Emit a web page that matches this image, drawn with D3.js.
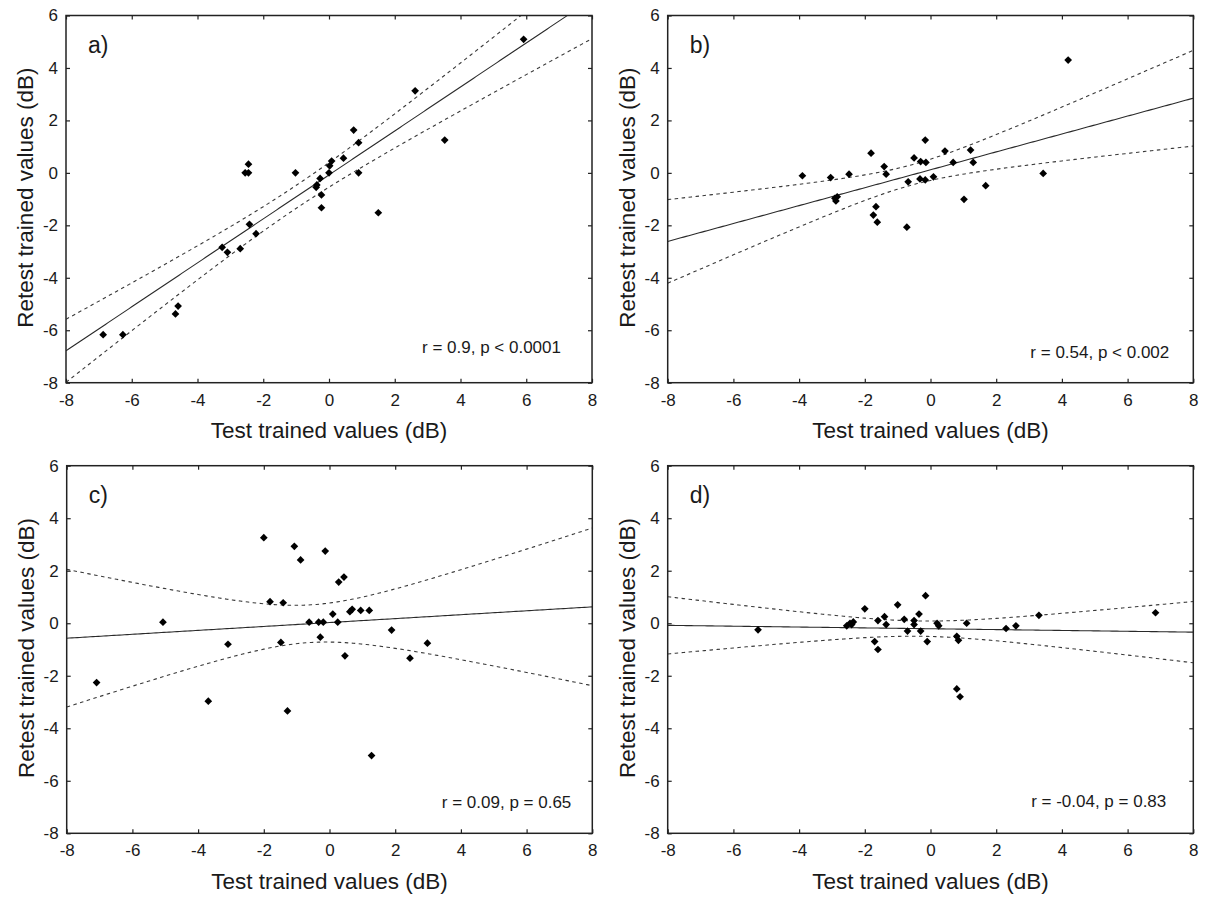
<!DOCTYPE html>
<html>
<head>
<meta charset="utf-8">
<script src="https://cdn.jsdelivr.net/npm/d3@7"></script>
<style>
  body { margin: 0; background: #fff; }
  text { font-family: Arial, "Liberation Sans", sans-serif; fill: #1a1a1a; }
</style>
</head>
<body>
<svg id="chart" width="1207" height="902"></svg>
<script>
// Axis ticks and titles shared by all four panels
const xTicks = [-8, -6, -4, -2, 0, 2, 4, 6, 8];
const yTicks = [-8, -6, -4, -2, 0, 2, 4, 6];
const xTitle = "Test trained values (dB)";
const yTitle = "Retest trained values (dB)";
const panelLabels = ["a)", "b)", "c)", "d)"];
const statLabels = ["r = 0.9, p < 0.0001", "r = 0.54, p < 0.002", "r = 0.09, p = 0.65", "r = -0.04, p = 0.83"];

// Panel a
const testA   = [-6.87, -6.27, -4.67, -4.59, -3.25, -3.09, -2.70, -2.42, -2.22, -2.55, -2.45, -2.45, -1.02, -0.39, -0.37, -0.27, -0.23, -0.23, 0.00, 0.02, 0.08, 0.44, 0.75, 0.90, 0.90, 1.50, 2.62, 3.52, 5.92];
const retestA = [-6.17, -6.17, -5.38, -5.08, -2.84, -3.03, -2.89, -1.96, -2.32, 0.00, 0.00, 0.33, 0.00, -0.55, -0.46, -0.21, -0.84, -1.33, 0.00, 0.27, 0.45, 0.56, 1.63, 1.15, 0.00, -1.52, 3.13, 1.25, 5.09];

// Panel b
const testB   = [-3.90, -3.04, -2.48, -2.91, -2.84, -2.88, -1.81, -1.41, -1.35, -1.66, -1.74, -1.62, -0.72, -0.50, -0.68, -0.30, -0.16, -0.14, -0.32, -0.16, 0.09, 0.44, 0.69, 1.22, 1.30, 1.02, 1.68, 3.43, 4.19];
const retestB = [-0.11, -0.18, -0.05, -0.97, -0.91, -1.07, 0.75, 0.24, -0.05, -1.29, -1.61, -1.88, -2.07, 0.57, -0.34, 0.43, 1.25, 0.40, -0.23, -0.27, -0.15, 0.83, 0.40, 0.87, 0.40, -1.01, -0.49, -0.02, 4.30];

// Panel c
const testC   = [-2.00, -1.07, -0.88, -1.81, -1.41, -5.07, -3.09, -1.48, -0.62, -0.13, 0.28, 0.44, 0.10, 0.62, 0.69, 0.95, 1.21, -0.33, -0.19, 0.25, -0.28, 0.47, 1.89, 2.45, 2.98, -7.09, -3.69, -1.28, 1.28];
const retestC = [3.26, 2.93, 2.41, 0.82, 0.78, 0.04, -0.80, -0.73, 0.04, 2.75, 1.57, 1.76, 0.35, 0.44, 0.53, 0.49, 0.49, 0.04, 0.04, 0.04, -0.53, -1.24, -0.26, -1.33, -0.76, -2.26, -2.97, -3.34, -5.04];

// Panel d
const testD   = [-5.25, -2.55, -2.45, -2.40, -2.35, -2.00, -1.70, -1.60, -1.60, -1.40, -1.35, -1.00, -0.80, -0.70, -0.50, -0.50, -0.35, -0.30, -0.15, -0.10, 0.20, 0.25, 0.80, 0.85, 0.80, 0.90, 1.10, 2.30, 2.60, 3.30, 6.85];
const retestD = [-0.25, -0.10, 0.00, -0.05, 0.05, 0.55, -0.70, -1.00, 0.10, 0.25, -0.05, 0.70, 0.15, -0.30, 0.10, -0.05, 0.35, -0.30, 1.05, -0.70, 0.00, -0.10, -0.50, -0.65, -2.50, -2.80, 0.00, -0.20, -0.10, 0.30, 0.40];

// Panel frames: plot area position and size, plus where the statistic sits
const panels = [
  { x: testA, y: retestA, left: 66,    top: 15.5,  w: 526,   h: 367.2, statInset: 31, statBase: 337.5 },
  { x: testB, y: retestB, left: 667.7, top: 15.5,  w: 525.6, h: 367.2, statInset: 24, statBase: 342.5 },
  { x: testC, y: retestC, left: 66.7,  top: 465.7, w: 525.6, h: 367.6, statInset: 21, statBase: 342 },
  { x: testD, y: retestD, left: 667.7, top: 465.7, w: 525.6, h: 367.6, statInset: 27, statBase: 341.5 }
];

const svg = d3.select("#chart");

// Least-squares fit with 95% confidence band of the mean response
function fit(xs, ys) {
  const n = xs.length;
  const mx = d3.mean(xs), my = d3.mean(ys);
  let sxx = 0, sxy = 0;
  for (let i = 0; i < n; i++) { sxx += (xs[i] - mx) ** 2; sxy += (xs[i] - mx) * (ys[i] - my); }
  const b = sxy / sxx, a = my - b * mx;
  let sse = 0;
  for (let i = 0; i < n; i++) sse += (ys[i] - a - b * xs[i]) ** 2;
  const s = Math.sqrt(sse / (n - 2));
  const t = 2.05;
  return {
    yhat: x => a + b * x,
    half: x => t * s * Math.sqrt(1 / n + (x - mx) ** 2 / sxx)
  };
}

const tickFmt = d => String(d);

panels.forEach((p, i) => {
  const xS = d3.scaleLinear().domain([-8, 8]).range([0, p.w]);
  const yS = d3.scaleLinear().domain([-8, 6]).range([p.h, 0]);
  const g = svg.append("g").attr("transform", `translate(${p.left},${p.top})`);

  const clipId = "clip" + i;
  g.append("clipPath").attr("id", clipId)
    .append("rect").attr("width", p.w).attr("height", p.h);

  // Regression line and confidence band
  const f = fit(p.x, p.y);
  const grid = d3.range(0, 201).map(k => -8 + k * 16 / 200);
  const plot = g.append("g").attr("clip-path", `url(#${clipId})`);
  const line = d3.line().x(d => xS(d[0])).y(d => yS(d[1]));
  plot.append("path")
    .attr("d", line(grid.map(x => [x, f.yhat(x)])))
    .attr("fill", "none").attr("stroke", "#2a2a2a").attr("stroke-width", 1.1);
  [1, -1].forEach(sign => {
    plot.append("path")
      .attr("d", line(grid.map(x => [x, f.yhat(x) + sign * f.half(x)])))
      .attr("fill", "none").attr("stroke", "#3a3a3a").attr("stroke-width", 1.1)
      .attr("stroke-dasharray", "3.5,3.5");
  });

  // Observations
  const diamond = d3.symbol().type(d3.symbolDiamond2).size(38);
  g.append("g").selectAll("path")
    .data(p.x.map((v, k) => [v, p.y[k]]))
    .join("path")
    .attr("d", diamond)
    .attr("transform", d => `translate(${xS(d[0])},${yS(d[1])})`)
    .attr("fill", "#000");

  // Axes: labelled bottom/left, bare ticks on top/right, all pointing inward
  const bottom = g.append("g").attr("transform", `translate(0,${p.h})`)
    .call(d3.axisBottom(xS).tickValues(xTicks).tickSizeInner(-4).tickSizeOuter(0).tickFormat(tickFmt));
  const left = g.append("g")
    .call(d3.axisLeft(yS).tickValues(yTicks).tickSizeInner(-4).tickSizeOuter(0).tickFormat(tickFmt));
  const top = g.append("g")
    .call(d3.axisTop(xS).tickValues(xTicks).tickSizeInner(-4).tickSizeOuter(0).tickFormat(""));
  const right = g.append("g").attr("transform", `translate(${p.w},0)`)
    .call(d3.axisRight(yS).tickValues(yTicks).tickSizeInner(-4).tickSizeOuter(0).tickFormat(""));
  [bottom, left, top, right].forEach(ax => {
    ax.select(".domain").remove();
    ax.selectAll("line").attr("stroke", "#222").attr("stroke-width", 1.2);
    ax.selectAll("text").attr("font-size", 17).attr("fill", "#1a1a1a")
      .attr("font-family", "Arial, 'Liberation Sans', sans-serif");
  });
  bottom.selectAll("text").attr("dy", "0.71em").attr("y", 11);
  left.selectAll("text").attr("x", -8);

  g.append("rect").attr("width", p.w).attr("height", p.h)
    .attr("fill", "none").attr("stroke", "#222").attr("stroke-width", 1.5);

  // Titles and annotations
  g.append("text").attr("x", p.w / 2).attr("y", p.h + 55.5)
    .attr("text-anchor", "middle").attr("font-size", 22.5).text(xTitle);
  g.append("text").attr("transform", `translate(${-33},${p.h / 2 - 1.5}) rotate(-90)`)
    .attr("text-anchor", "middle").attr("font-size", 22.5).text(yTitle);
  g.append("text").attr("x", 22).attr("y", 37)
    .attr("font-size", 23).text(panelLabels[i]);
  g.append("text").attr("x", p.w - p.statInset).attr("y", p.statBase)
    .attr("text-anchor", "end").attr("font-size", 17).text(statLabels[i]);
});
</script>
</body>
</html>
